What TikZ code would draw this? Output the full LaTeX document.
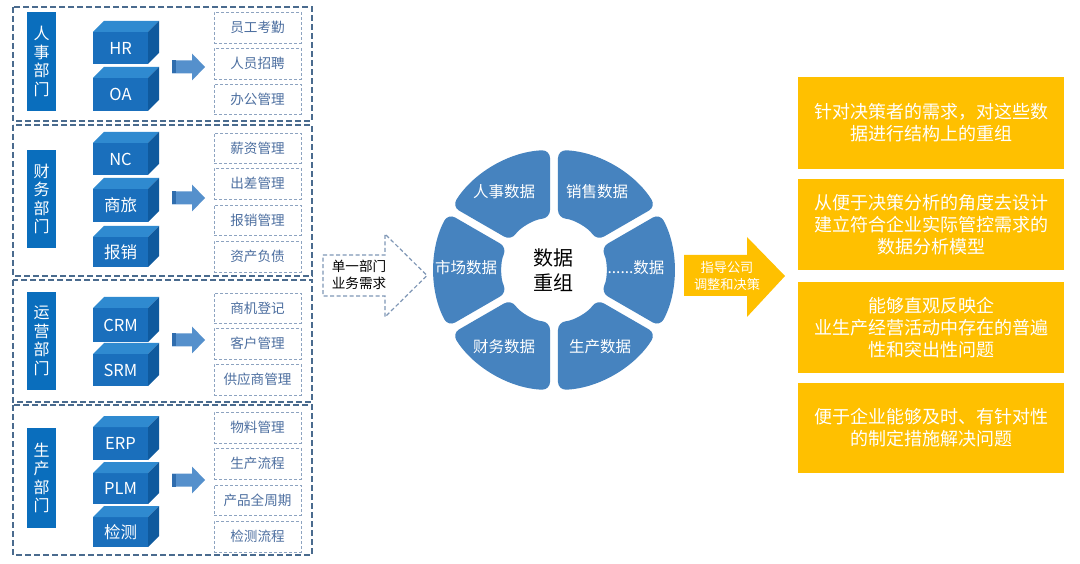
\documentclass[tikz,border=0pt]{standalone}
\usepackage{fontspec}
\newfontfamily\cjk{Noto Sans CJK SC}
\definecolor{deptblue}{HTML}{0A6EBD}
\definecolor{cubefrontc}{HTML}{1A6FBC}
\definecolor{cubetopc}{HTML}{2F8AD0}
\definecolor{cubesidec}{HTML}{0F5A9E}
\definecolor{arrowblue}{HTML}{5590CC}
\definecolor{arrowdark}{HTML}{2F6DAE}
\definecolor{framec}{HTML}{4A6B8E}
\definecolor{itemborder}{HTML}{8DA3C0}
\definecolor{itemtext}{HTML}{4D6FA0}
\definecolor{wheelc}{HTML}{4683BF}
\definecolor{goldc}{HTML}{FFC000}
\definecolor{hollowc}{HTML}{7F97B6}
\tikzset{
  groupframe/.style={draw=framec, line width=1.8pt, dash pattern=on 6pt off 3pt},
  deptbox/.style={fill=deptblue, text=white, font=\cjk\fontsize{16}{18.5}\selectfont, align=center, inner sep=0pt, outer sep=0pt, minimum width=29pt},
  cubefront/.style={fill=cubefrontc, text=white, font=\cjk\fontsize{16.5}{18}\selectfont, inner sep=0pt, outer sep=0pt, minimum width=55pt},
  cubetop/.style={fill=cubetopc},
  cubeside/.style={fill=cubesidec},
  itembox/.style={draw=itemborder, line width=0.8pt, dash pattern=on 3pt off 2pt, text=itemtext, font=\cjk\fontsize{13.6}{15}\selectfont, inner sep=0pt, minimum width=87pt},
  wheelseg/.style={fill=wheelc, rounded corners=8pt},
  wheellabel/.style={text=white, font=\cjk\fontsize{15.5}{17}\selectfont, inner sep=0pt},
  goldbox/.style={fill=goldc, text=white, font=\cjk\fontsize{18}{22}\selectfont, align=center, inner sep=0pt, minimum width=266pt},
}
\newcommand\cubebox[4]{% name, ytop, ybottom, text
  \node[cubefront, minimum height={#3-#2}] (#1) at (120.5,{(#2+#3)/2}) {#4};
  \fill[cubetop] (#1.north west) -- ++(11,-11) -- ++(55,0) -- (#1.north east) -- cycle;
  \fill[cubeside] (#1.north east) -- ++(11,-11) -- ++(0,{#3-#2}) -- (#1.south east) -- cycle;
}
\newcommand\itemnode[4]{% name, ytop, ybottom, text
  \node[itembox, minimum height={#3-#2}] (#1) at (257.5,{(#2+#3)/2}) {#4};
}
\newcommand\bluearrow[2]{% name, y
  \coordinate (#1) at (188,#2);
  \fill[arrowblue] (172,#2-6.5) -- (192,#2-6.5) -- (192,#2-13.5) -- (205,#2) -- (192,#2+13.5) -- (192,#2+6.5) -- (172,#2+6.5) -- cycle;
  \fill[arrowdark] (172,#2-6.5) rectangle (176,#2+6.5);
}
\newcommand\wheelsegment[1]{%
  \fill[wheelseg] ({#1-28.1}:120) arc[start angle={#1-28.1}, end angle={#1+28.1}, radius=120]
    -- ({#1+25.6}:52) arc[start angle={#1+25.6}, end angle={#1-25.6}, radius=52] -- cycle;
}
\begin{document}
\begin{tikzpicture}[x=1pt, y=-1pt]
\useasboundingbox[fill=white] (0,0) rectangle (1080,564);

% ---------- group frames ----------
\draw[groupframe] (13,7) rectangle (312,121);
\draw[groupframe] (13,125) rectangle (312,276);
\draw[groupframe] (13,280) rectangle (312,402);
\draw[groupframe] (13,405) rectangle (312,555);

% ---------- department boxes ----------
\node[deptbox, minimum height=99pt] (d1) at (41.5,61.5) {人\\事\\部\\门};
\node[deptbox, minimum height=98pt] (d2) at (41.5,199) {财\\务\\部\\门};
\node[deptbox, minimum height=98pt] (d3) at (41.5,341) {运\\营\\部\\门};
\node[deptbox, minimum height=100pt] (d4) at (41.5,478) {生\\产\\部\\门};

% ---------- cubes ----------
\cubebox{hr}{32}{64}{HR}
\cubebox{oa}{78}{111}{OA}
\cubebox{nc}{143}{175}{NC}
\cubebox{sl}{189}{222}{商旅}
\cubebox{bx}{237}{267}{报销}
\cubebox{crm}{308}{342}{CRM}
\cubebox{srm}{354}{386}{SRM}
\cubebox{erp}{427}{460}{ERP}
\cubebox{plm}{473}{504}{PLM}
\cubebox{jc}{517}{547}{检测}

% ---------- small arrows ----------
\bluearrow{a1}{67}
\bluearrow{a2}{198}
\bluearrow{a3}{340}
\bluearrow{a4}{480}

% ---------- items ----------
\itemnode{i11}{12}{43}{员工考勤}
\itemnode{i12}{48}{79}{人员招聘}
\itemnode{i13}{84}{114}{办公管理}
\itemnode{i21}{133}{163}{薪资管理}
\itemnode{i22}{168}{199}{出差管理}
\itemnode{i23}{205}{235}{报销管理}
\itemnode{i24}{241}{272}{资产负债}
\itemnode{i31}{293}{323}{商机登记}
\itemnode{i32}{328}{359}{客户管理}
\itemnode{i33}{364}{395}{供应商管理}
\itemnode{i41}{412}{443}{物料管理}
\itemnode{i42}{448}{479}{生产流程}
\itemnode{i43}{485}{515}{产品全周期}
\itemnode{i44}{521}{552}{检测流程}

% ---------- hollow dashed arrow ----------
\draw[draw=hollowc, line width=1.2pt, dash pattern=on 4pt off 2.5pt]
  (323,255) -- (385,255) -- (385,234) -- (427,275.5) -- (385,317) -- (385,296) -- (323,296) -- cycle;
\node[font=\cjk\fontsize{13.6}{17}\selectfont, align=left, inner sep=0pt] (need) at (359,275) {单一部门\\业务需求};

% ---------- wheel ----------
\begin{scope}[shift={(554,270)}]
  \wheelsegment{0}
  \wheelsegment{60}
  \wheelsegment{120}
  \wheelsegment{180}
  \wheelsegment{240}
  \wheelsegment{300}
\end{scope}
\node[wheellabel] (w1) at (504,192) {人事数据};
\node[wheellabel] (w2) at (597,192) {销售数据};
\node[wheellabel] (w3) at (466,268) {市场数据};
\node[wheellabel] (w4) at (636,268) {......数据};
\node[wheellabel] (w5) at (504,347) {财务数据};
\node[wheellabel] (w6) at (600,347) {生产数据};
\node[font=\cjk\fontsize{20}{25}\selectfont, align=center, inner sep=0pt] (core) at (553,270) {数据\\重组};

% ---------- yellow arrow ----------
\fill[goldc] (684,255) -- (747,255) -- (747,237) -- (785,276) -- (747,317) -- (747,296) -- (684,296) -- cycle;
\node[text=white, font=\cjk\fontsize{13.2}{17}\selectfont, align=center, inner sep=0pt] (guide) at (727,276) {指导公司\\调整和决策};

% ---------- yellow boxes ----------
\node[goldbox, minimum height=92pt] (g1) at (931,123) {针对决策者的需求，对这些数\\据进行结构上的重组};
\node[goldbox, minimum height=91pt] (g2) at (931,224.5) {从便于决策分析的角度去设计\\建立符合企业实际管控需求的\\数据分析模型};
\node[goldbox, minimum height=91pt] (g3) at (931,327.5) {能够直观反映企\\业生产经营活动中存在的普遍\\性和突出性问题};
\node[goldbox, minimum height=90pt] (g4) at (931,428) {便于企业能够及时、有针对性\\的制定措施解决问题};
\end{tikzpicture}
\end{document}
